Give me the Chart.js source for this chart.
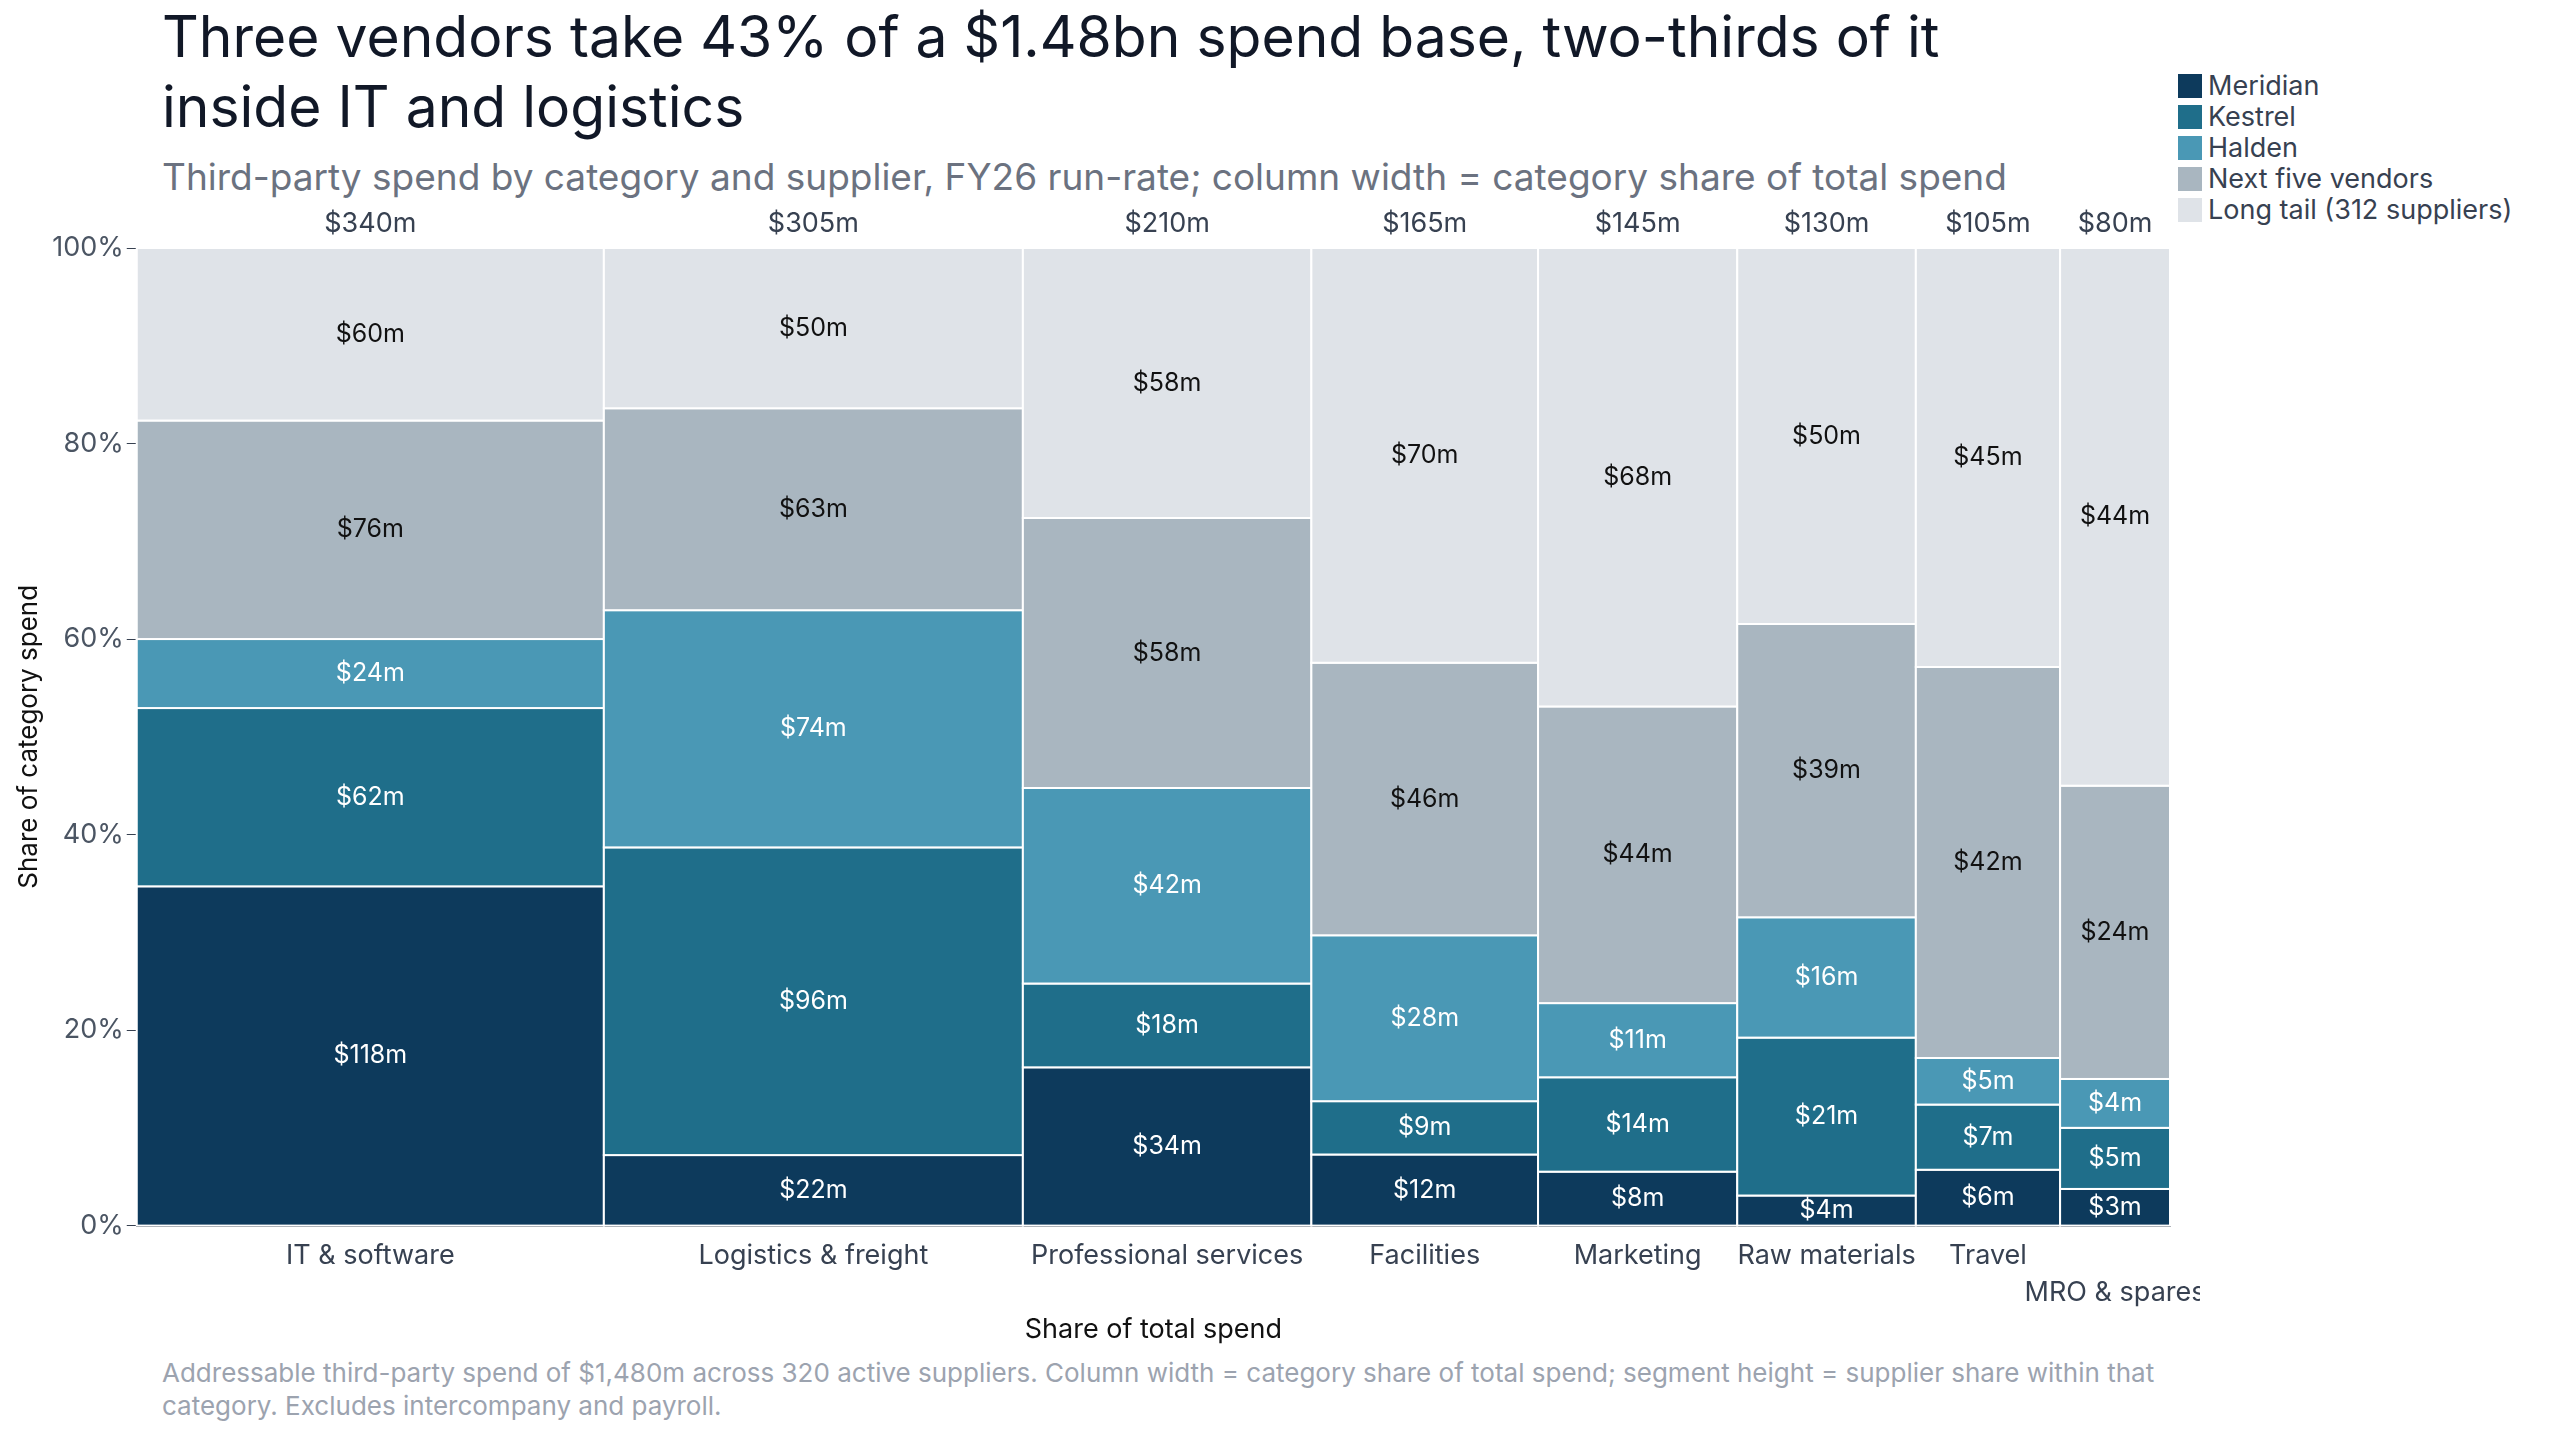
<!DOCTYPE html>
<html>
<head>
<meta charset="utf-8">
<script src="https://cdn.jsdelivr.net/npm/chart.js@4"></script>
<style>
  body { margin: 0; width: 2560px; height: 1440px; background: #fff; font-family: Inter, "Noto Sans", sans-serif; position: relative; overflow: hidden; }
  h1 { position: absolute; left: 162px; top: 2px; margin: 0; font-weight: 400; font-size: 57px; line-height: 70px; color: #111827; width: 1900px; }
  .sub { position: absolute; left: 162px; top: 154px; font-size: 37px; color: #6b7280; }
  .legend { position: absolute; left: 2178px; top: 70px; font-size: 27px; color: #374151; line-height: 31px; }
  .legend div { display: flex; align-items: center; }
  .legend span { width: 24px; height: 24px; display: inline-block; margin-right: 6px; }
  .foot { position: absolute; left: 162px; top: 1356px; font-size: 26px; color: #9ca3af; width: 2050px; line-height: 33px; }
  #wrap { position: absolute; left: 0; top: 200px; width: 2200px; height: 1150px; }
</style>
</head>
<body>
<h1>Three vendors take 43% of a $1.48bn spend base, two-thirds of it inside IT and logistics</h1>
<div class="sub">Third-party spend by category and supplier, FY26 run-rate; column width = category share of total spend</div>
<div class="legend" id="legend"></div>
<div id="wrap"><canvas id="chart"></canvas></div>
<div class="foot">Addressable third-party spend of $1,480m across 320 active suppliers. Column width = category share of total spend; segment height = supplier share within that category. Excludes intercompany and payroll.</div>
<script>
const categories = ['IT & software', 'Logistics & freight', 'Professional services', 'Facilities', 'Marketing', 'Raw materials', 'Travel', 'MRO & spares'];
const suppliers = ['Meridian', 'Kestrel', 'Halden', 'Next five vendors', 'Long tail (312 suppliers)'];
const meridian = [118, 22, 34, 12, 8, 4, 6, 3];
const kestrel = [62, 96, 18, 9, 14, 21, 7, 5];
const halden = [24, 74, 42, 28, 11, 16, 5, 4];
const nextFive = [76, 63, 58, 46, 44, 39, 42, 24];
const longTail = [60, 50, 58, 70, 68, 50, 45, 44];
const yTicks = [0, 20, 40, 60, 80, 100];

const colors = ['#0d3a5c', '#1f6e8a', '#4a98b5', '#a9b6c0', '#dfe3e8'];
const textColors = ['#fff', '#fff', '#fff', '#111', '#111'];
const series = [meridian, kestrel, halden, nextFive, longTail];
const totals = categories.map((c, i) => series.reduce((s, arr) => s + arr[i], 0));
const grand = totals.reduce((a, b) => a + b, 0);

document.getElementById('legend').innerHTML = suppliers.map((s, i) =>
  `<div><span style="background:${colors[i]}"></span>${s}</div>`).join('');

const mekko = {
  id: 'mekko',
  afterDatasetsDraw(chart) {
    const { ctx, scales: { x, y }, chartArea } = chart;
    ctx.save();
    ctx.font = '25px Inter, sans-serif';
    ctx.textAlign = 'center';
    ctx.textBaseline = 'middle';
    let cum = 0;
    let prevRight = -Infinity;
    categories.forEach((cat, i) => {
      const x0 = x.getPixelForValue(cum), x1 = x.getPixelForValue(cum + totals[i]);
      let ycum = 0;
      series.forEach((arr, k) => {
        const p0 = ycum / totals[i] * 100, p1 = (ycum + arr[i]) / totals[i] * 100;
        const y0 = y.getPixelForValue(p0), y1 = y.getPixelForValue(p1);
        ctx.fillStyle = colors[k];
        ctx.fillRect(x0, y1, x1 - x0, y0 - y1);
        ctx.strokeStyle = '#fff';
        ctx.lineWidth = 2;
        ctx.strokeRect(x0, y1, x1 - x0, y0 - y1);
        ctx.fillStyle = textColors[k];
        ctx.fillText('$' + arr[i] + 'm', (x0 + x1) / 2, (y0 + y1) / 2);
        ycum += arr[i];
      });
      const cx = (x0 + x1) / 2;
      ctx.fillStyle = '#374151';
      ctx.font = '27px Inter, sans-serif';
      ctx.fillText('$' + totals[i] + 'm', cx, chartArea.top - 24);
      const w = ctx.measureText(cat).width;
      let ly = chartArea.bottom + 30;
      if (cx - w / 2 < prevRight + 4) ly += 37;
      else prevRight = cx + w / 2;
      ctx.fillText(cat, cx, ly);
      ctx.font = '25px Inter, sans-serif';
      cum += totals[i];
    });
    ctx.restore();
  }
};

new Chart(document.getElementById('chart'), {
  type: 'scatter',
  data: { datasets: [{ data: [] }] },
  plugins: [mekko],
  options: {
    responsive: true, maintainAspectRatio: false, animation: false,
    layout: { padding: { top: 48, left: 10, right: 30 } },
    plugins: { legend: { display: false }, tooltip: { enabled: false } },
    scales: {
      x: {
        type: 'linear', min: 0, max: grand,
        grid: { display: false },
        border: { color: '#374151', width: 2 },
        ticks: { display: false },
        title: { display: true, text: 'Share of total spend', color: '#111', font: { size: 27, family: 'Inter' }, padding: { top: 80 } }
      },
      y: {
        min: 0, max: 100,
        afterBuildTicks: (axis) => { axis.ticks = yTicks.map(v => ({ value: v })); },
        grid: { drawOnChartArea: false, tickLength: 10, color: '#374151' },
        border: { color: '#374151', width: 2 },
        ticks: { callback: v => v + '%', color: '#4b5563', font: { size: 27, family: 'Inter' } },
        title: { display: true, text: 'Share of category spend', color: '#111', font: { size: 26, family: 'Inter' } }
      }
    }
  }
});
</script>
</body>
</html>
